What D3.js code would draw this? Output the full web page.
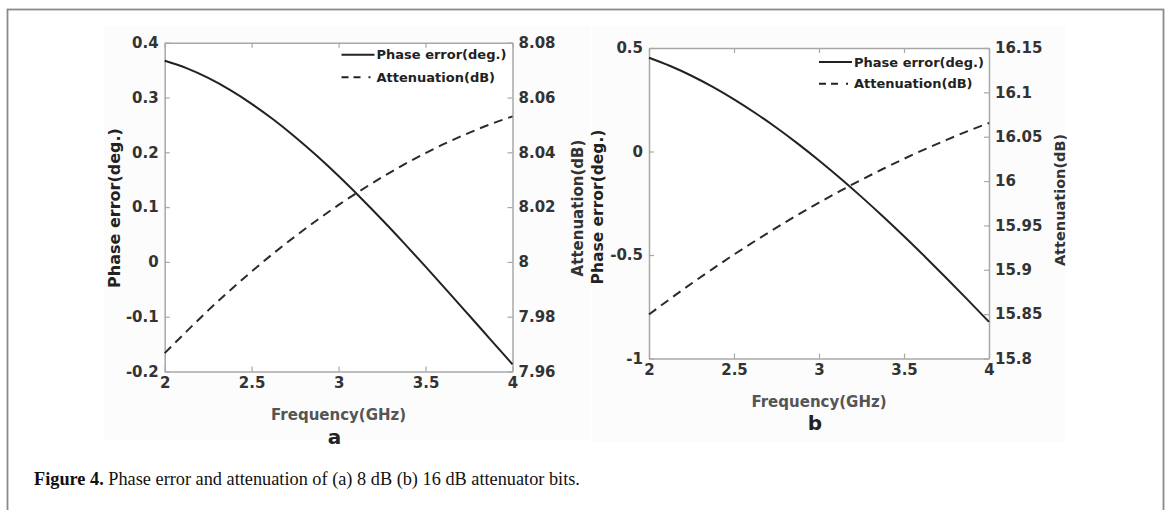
<!DOCTYPE html>
<html><head><meta charset="utf-8">
<script src="https://cdn.jsdelivr.net/npm/d3@7"></script>
<style>
html,body{margin:0;padding:0;background:#fff;}
svg{display:block;}
</style></head>
<body>
<svg id="chart" width="1170" height="510"></svg>
<script>
// ---- data ----
const freq = [2, 2.125, 2.25, 2.375, 2.5, 2.625, 2.75, 2.875, 3, 3.125, 3.25, 3.375, 3.5, 3.625, 3.75, 3.875, 4];
const phaseA = [0.367, 0.3535, 0.3357, 0.3139, 0.2885, 0.2598, 0.228, 0.1935, 0.1566, 0.1176, 0.0769, 0.0347, -0.0087, -0.0528, -0.0974, -0.1422, -0.187];
const attenA = [7.9667, 7.9746, 7.9823, 7.9896, 7.9965, 8.0031, 8.0093, 8.0152, 8.0208, 8.0260, 8.0309, 8.0355, 8.0397, 8.0436, 8.0471, 8.0503, 8.0531];
const phaseB = [0.453, 0.4129, 0.366, 0.3121, 0.252, 0.1861, 0.1146, 0.038, -0.0435, -0.1293, -0.2192, -0.3128, -0.4097, -0.5095, -0.612, -0.7166, -0.823];
const attenB = [15.8496, 15.8673, 15.8845, 15.9011, 15.9172, 15.9326, 15.9475, 15.9619, 15.9757, 15.9889, 16.0015, 16.0136, 16.0251, 16.0361, 16.0464, 16.0563, 16.0655];

const xTicks = [2, 2.5, 3, 3.5, 4];
const xTickLabels = ["2", "2.5", "3", "3.5", "4"];
const leftTicksA = [-0.2, -0.1, 0, 0.1, 0.2, 0.3, 0.4];
const leftLabelsA = ["-0.2", "-0.1", "0", "0.1", "0.2", "0.3", "0.4"];
const rightTicksA = [7.96, 7.98, 8, 8.02, 8.04, 8.06, 8.08];
const rightLabelsA = ["7.96", "7.98", "8", "8.02", "8.04", "8.06", "8.08"];
const leftTicksB = [-1, -0.5, 0, 0.5];
const leftLabelsB = ["-1", "-0.5", "0", "0.5"];
const rightTicksB = [15.8, 15.85, 15.9, 15.95, 16, 16.05, 16.1, 16.15];
const rightLabelsB = ["15.8", "15.85", "15.9", "15.95", "16", "16.05", "16.1", "16.15"];
const legendLabels = ["Phase error(deg.)", "Attenuation(dB)"];
const xTitle = "Frequency(GHz)";
const yLeftTitle = "Phase error(deg.)";
const yRightTitle = "Attenuation(dB)";
const panelLetters = ["a", "b"];

const svg = d3.select("#chart");
const FONT = "'DejaVu Sans', sans-serif";

// frame
svg.append("rect").attr("x", 7.5).attr("y", 9.5).attr("width", 1156).attr("height", 520)
  .attr("fill", "none").attr("stroke", "#8a8a8a").attr("stroke-width", 1.8);

// very subtle image backgrounds
svg.append("rect").attr("x", 104).attr("y", 26).attr("width", 486).attr("height", 414).attr("fill", "#fcfcfc");
svg.append("rect").attr("x", 592).attr("y", 26).attr("width", 473).attr("height", 416).attr("fill", "#fcfcfc");

function panel(cfg) {
  const x = d3.scaleLinear().domain([2, 4]).range([cfg.x0, cfg.x1]);
  const yL = d3.scaleLinear().domain(cfg.leftDomain).range([cfg.y1, cfg.y0]);
  const yR = d3.scaleLinear().domain(cfg.rightDomain).range([cfg.y1, cfg.y0]);
  const g = svg.append("g");

  g.append("rect").attr("x", cfg.x0).attr("y", cfg.y0)
    .attr("width", cfg.x1 - cfg.x0).attr("height", cfg.y1 - cfg.y0).attr("fill", "#fff");

  const styleAxis = (sel) => {
    sel.selectAll(".domain").attr("stroke", "#a8a8a8").attr("stroke-width", 1.5);
    sel.selectAll(".tick line").attr("stroke", "#a8a8a8").attr("stroke-width", 1.2);
    sel.selectAll("text").attr("font-family", FONT).attr("font-weight", "bold")
      .attr("font-size", cfg.tickFont).attr("fill", "#333");
  };

  const bottom = g.append("g").attr("transform", `translate(0,${cfg.y1})`)
    .call(d3.axisBottom(x).tickValues(xTicks).tickFormat((d, i) => xTickLabels[i])
      .tickSizeInner(-5).tickSizeOuter(0).tickPadding(cfg.xPad));
  styleAxis(bottom);
  const top = g.append("g").attr("transform", `translate(0,${cfg.y0})`)
    .call(d3.axisTop(x).tickValues(xTicks).tickFormat("").tickSizeInner(-5).tickSizeOuter(0));
  styleAxis(top);
  const left = g.append("g").attr("transform", `translate(${cfg.x0},0)`)
    .call(d3.axisLeft(yL).tickValues(cfg.leftTicks).tickFormat((d, i) => cfg.leftLabels[i])
      .tickSizeInner(-5).tickSizeOuter(0).tickPadding(6));
  styleAxis(left);
  const right = g.append("g").attr("transform", `translate(${cfg.x1},0)`)
    .call(d3.axisRight(yR).tickValues(cfg.rightTicks).tickFormat((d, i) => cfg.rightLabels[i])
      .tickSizeInner(-5).tickSizeOuter(0).tickPadding(6));
  styleAxis(right);

  // lines
  const phaseLine = d3.line().x((d, i) => x(freq[i])).y(d => yL(d)).curve(d3.curveMonotoneX);
  const attLine = d3.line().x((d, i) => x(freq[i])).y(d => yR(d)).curve(d3.curveMonotoneX);
  g.append("path").datum(cfg.atten).attr("d", attLine).attr("fill", "none")
    .attr("stroke", "#2a2a2a").attr("stroke-width", 2).attr("stroke-dasharray", "9,6");
  g.append("path").datum(cfg.phase).attr("d", phaseLine).attr("fill", "none")
    .attr("stroke", "#222").attr("stroke-width", 2);

  // legend
  const lx = cfg.x1 - cfg.legendRight;
  [0, 1].forEach(i => {
    const ly = cfg.y0 + cfg.legendY[i];
    g.append("line").attr("x1", lx).attr("x2", lx + 33).attr("y1", ly).attr("y2", ly)
      .attr("stroke", "#222").attr("stroke-width", 2)
      .attr("stroke-dasharray", i === 1 ? "7,5,7,8,2" : null);
    g.append("text").attr("x", lx + 35).attr("y", ly).attr("dy", "0.36em")
      .attr("font-family", FONT).attr("font-weight", "bold").attr("font-size", cfg.legendFont)
      .attr("fill", "#222").text(legendLabels[i]);
  });

  // titles
  g.append("text").attr("x", (cfg.x0 + cfg.x1) / 2).attr("y", cfg.y1 + cfg.xTitleDy)
    .attr("text-anchor", "middle").attr("font-family", FONT).attr("font-weight", "bold")
    .attr("font-size", 15).attr("fill", "#555").text(xTitle);
  g.append("text").attr("x", (cfg.x0 + cfg.x1) / 2 - 4).attr("y", cfg.y1 + cfg.letterDy)
    .attr("text-anchor", "middle").attr("font-family", FONT).attr("font-weight", "bold")
    .attr("font-size", 20).attr("fill", "#222").text(cfg.letter);
  g.append("text").attr("transform", `translate(${cfg.leftTitleX},${cfg.leftTitleY}) rotate(-90)`)
    .attr("text-anchor", "middle").attr("font-family", FONT).attr("font-weight", "bold")
    .attr("font-size", cfg.leftTitleFont).attr("fill", "#222").text(yLeftTitle);
  g.append("text").attr("transform", `translate(${cfg.rightTitleX},${cfg.rightTitleY}) rotate(-90)`)
    .attr("text-anchor", "middle").attr("font-family", FONT).attr("font-weight", "bold")
    .attr("font-size", cfg.rightTitleFont).attr("fill", "#333").text(yRightTitle);
}

panel({
  x0: 164.7, x1: 512.5, y0: 42.7, y1: 371.5,
  leftDomain: [-0.2, 0.4], rightDomain: [7.96, 8.08],
  leftTicks: leftTicksA, leftLabels: leftLabelsA,
  rightTicks: rightTicksA, rightLabels: rightLabelsA,
  phase: phaseA, atten: attenA,
  tickFont: 15, xPad: 6, legendFont: 13, legendRight: 171, legendY: [12, 34.6],
  xTitleDy: 48.5, letterDy: 72,
  leftTitleX: 120, leftTitleY: 208, leftTitleFont: 16,
  rightTitleX: 583, rightTitleY: 208, rightTitleFont: 15,
  letter: panelLetters[0]
});
panel({
  x0: 649, x1: 989, y0: 48, y1: 358.5,
  leftDomain: [-1, 0.5], rightDomain: [15.8, 16.15],
  leftTicks: leftTicksB, leftLabels: leftLabelsB,
  rightTicks: rightTicksB, rightLabels: rightLabelsB,
  phase: phaseB, atten: attenB,
  tickFont: 15, xPad: 6, legendFont: 13, legendRight: 170, legendY: [14, 35.7],
  xTitleDy: 48.5, letterDy: 71,
  leftTitleX: 603, leftTitleY: 207, leftTitleFont: 15.5,
  rightTitleX: 1065, rightTitleY: 200, rightTitleFont: 14.5,
  letter: panelLetters[1]
});

// caption
const cap = svg.append("text").attr("x", 34).attr("y", 485)
  .attr("font-family", "'Liberation Serif', 'DejaVu Serif', serif").attr("font-size", 18.3).attr("fill", "#111");
cap.append("tspan").attr("font-weight", "bold").text("Figure 4.");
cap.append("tspan").text(" Phase error and attenuation of (a) 8 dB (b) 16 dB attenuator bits.");
</script>
</body></html>
